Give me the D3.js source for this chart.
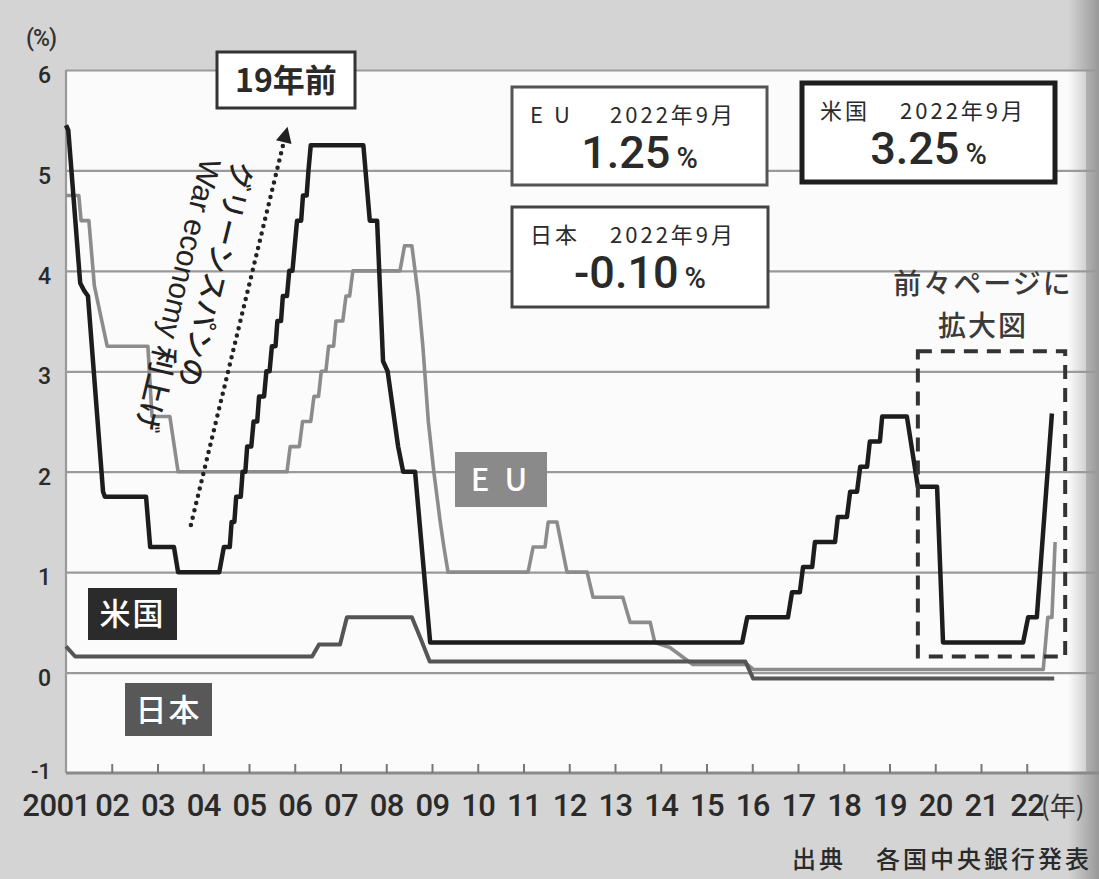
<!DOCTYPE html>
<html><head><meta charset="utf-8">
<script src="https://cdn.jsdelivr.net/npm/d3@7"></script>
<style>
body{margin:0;background:#d4d4d4;}
svg{display:block}
.num{font-family:Roboto,"Liberation Sans",sans-serif;font-weight:500}
.jp{font-family:"Noto Sans CJK JP",sans-serif}
</style></head><body><svg id="c" width="1099" height="879"></svg>
<script>
// ---------- data (year, policy rate %) ----------
const xTickYears  = [2001,2002,2003,2004,2005,2006,2007,2008,2009,2010,2011,2012,2013,2014,2015,2016,2017,2018,2019,2020,2021,2022];
const xTickLabels = ["2001","02","03","04","05","06","07","08","09","10","11","12","13","14","15","16","17","18","19","20","21","22"];
const yTickValues = [-1,0,1,2,3,4,5,6];
const gridValues  = [0,1,2,3,4,5,6];

const usRate = [
 [2001.0,5.45],[2001.05,5.4],[2001.31,3.88],[2001.4,3.8],[2001.48,3.75],[2001.81,1.8],[2001.85,1.75],
 [2002.75,1.75],[2002.84,1.25],[2003.36,1.25],[2003.45,1.0],[2004.35,1.0],
 [2004.45,1.25],[2004.58,1.25],[2004.62,1.5],[2004.68,1.5],[2004.72,1.75],[2004.82,1.75],[2004.86,2.0],
 [2004.92,2.0],[2004.96,2.25],[2005.05,2.25],[2005.1,2.5],[2005.18,2.5],[2005.22,2.75],[2005.33,2.75],
 [2005.38,3.0],[2005.45,3.0],[2005.5,3.25],[2005.58,3.25],[2005.62,3.5],[2005.7,3.5],[2005.74,3.75],
 [2005.83,3.75],[2005.88,4.0],[2005.95,4.0],[2006.0,4.25],[2006.05,4.5],[2006.14,4.5],[2006.18,4.75],
 [2006.26,4.75],[2006.3,5.0],[2006.35,5.25],[2007.5,5.25],[2007.64,4.5],[2007.8,4.5],[2007.93,3.1],
 [2008.03,3.0],[2008.26,2.25],[2008.37,2.0],[2008.63,2.0],[2008.96,0.3],[2015.78,0.3],[2015.89,0.55],
 [2016.78,0.55],[2016.87,0.8],[2017.04,0.8],[2017.11,1.05],[2017.31,1.05],[2017.37,1.3],[2017.81,1.3],
 [2017.87,1.55],[2018.07,1.55],[2018.14,1.8],[2018.29,1.8],[2018.36,2.05],[2018.51,2.05],[2018.57,2.3],
 [2018.79,2.3],[2018.84,2.55],[2019.38,2.55],[2019.62,1.85],[2020.04,1.85],[2020.17,0.3],[2021.92,0.3],
 [2022.03,0.55],[2022.22,0.55],[2022.55,2.58]
];
const euRate = [
 [2001.0,4.75],[2001.28,4.75],[2001.33,4.5],[2001.5,4.5],[2001.62,3.85],[2001.9,3.25],[2002.79,3.25],
 [2002.88,2.55],[2003.27,2.55],[2003.45,2.0],[2005.83,2.0],[2005.9,2.25],[2006.1,2.25],[2006.17,2.5],
 [2006.35,2.5],[2006.42,2.75],[2006.52,2.75],[2006.58,3.0],[2006.68,3.0],[2006.74,3.25],[2006.85,3.25],
 [2006.9,3.5],[2007.05,3.5],[2007.12,3.75],[2007.2,3.75],[2007.27,4.0],[2008.3,4.0],[2008.4,4.25],
 [2008.56,4.25],[2008.7,3.75],[2008.8,3.25],[2008.92,2.5],[2009.04,2.0],[2009.18,1.5],[2009.26,1.25],
 [2009.35,1.0],[2011.1,1.0],[2011.21,1.25],[2011.47,1.25],[2011.54,1.5],[2011.73,1.5],[2011.95,1.0],
 [2012.39,1.0],[2012.52,0.75],[2013.17,0.75],[2013.33,0.5],[2013.77,0.5],[2013.87,0.3],[2014.2,0.25],
 [2014.7,0.08],[2015.9,0.08],[2016.03,0.03],[2022.36,0.03],[2022.46,0.55],[2022.55,0.55],[2022.62,1.3]
];
const jpRate = [
 [2001.0,0.26],[2001.2,0.16],[2006.38,0.16],[2006.53,0.28],[2006.99,0.28],[2007.14,0.55],[2008.56,0.55],
 [2008.76,0.33],[2008.95,0.11],[2015.85,0.11],[2016.02,-0.06],[2022.6,-0.06]
];

// ---------- chart ----------
const W=1099,H=879;
const svg=d3.select('#c');
const x=d3.scaleLinear().domain([2001,2023]).range([66,66+22*45.75]);
const y=d3.scaleLinear().domain([-1,6]).range([773,70]);

svg.append('rect').attr('width',W).attr('height',H).attr('fill','#d4d4d4');
svg.append('rect').attr('x',x(2001)).attr('y',y(6)).attr('width',1086-x(2001)).attr('height',y(-1)-y(6)).attr('fill','#fbfbfb');
// right page shadow
const defs=svg.append('defs');
const gr=defs.append('linearGradient').attr('id','sh').attr('x1','0').attr('x2','1');
gr.append('stop').attr('offset','0').attr('stop-color','#000').attr('stop-opacity',0);
gr.append('stop').attr('offset','1').attr('stop-color','#000').attr('stop-opacity',0.28);
svg.append('rect').attr('x',1068).attr('y',0).attr('width',31).attr('height',H).attr('fill','url(#sh)');

// grid
const grid=svg.append('g').attr('transform',`translate(${x(2001)},0)`)
  .call(d3.axisLeft(y).tickValues(gridValues).tickSize(-(W-x(2001))).tickFormat(''));
grid.select('.domain').remove();
grid.selectAll('line').attr('stroke','#9a9a9a').attr('stroke-width',2.2);

// y axis labels
const ya=svg.append('g').attr('transform',`translate(${x(2001)},0)`)
  .call(d3.axisLeft(y).tickValues(yTickValues).tickSize(0).tickPadding(15).tickFormat(d=>String(d)));
ya.select('.domain').remove();
ya.selectAll('text').attr('class','num').attr('font-size',23).attr('fill','#2a2a2a').attr('dy','0.55em');
ya.selectAll('.tick').filter(d=>d===-1).select('text').attr('dy','0.25em').attr('font-size',22);
svg.append('line').attr('x1',x(2001)).attr('x2',x(2001)).attr('y1',y(6)).attr('y2',y(-1)).attr('stroke','#9a9a9a').attr('stroke-width',2.2);
svg.append('text').attr('class','num').attr('x',26).attr('y',46).attr('font-size',23).attr('letter-spacing',-1).attr('fill','#333').text('(%)');

// x axis
svg.append('line').attr('x1',x(2001)).attr('x2',W).attr('y1',y(-1)).attr('y2',y(-1)).attr('stroke','#8a8a8a').attr('stroke-width',3);
const xa=svg.append('g').attr('transform',`translate(0,${y(-1)})`)
  .call(d3.axisBottom(x).tickValues(xTickYears).tickFormat((d,i)=>xTickLabels[i]).tickSizeInner(-9).tickSizeOuter(0).tickPadding(21));
xa.select('.domain').remove();
xa.selectAll('.tick line').attr('stroke','#777').attr('stroke-width',2).filter(d=>d===2001).remove();
xa.selectAll('.tick text').attr('class','num').attr('font-size',31).attr('fill','#2a2a2a').attr('letter-spacing',-0.5);
xa.selectAll('.tick').filter(d=>d===2001).select('text').attr('dx',-10);
svg.append('text').attr('class','jp').attr('x',1041).attr('y',816).attr('font-size',26).attr('fill','#333').text('(年)');

// series
const line=d3.line().x(d=>x(d[0])).y(d=>y(d[1]));
svg.append('path').datum(euRate).attr('d',line).attr('fill','none').attr('stroke','#8c8c8c').attr('stroke-width',3.6).attr('stroke-linejoin','round');
svg.append('path').datum(jpRate).attr('d',line).attr('fill','none').attr('stroke','#555').attr('stroke-width',4).attr('stroke-linejoin','round');
svg.append('path').datum(usRate).attr('d',line).attr('fill','none').attr('stroke','#1d1d1d').attr('stroke-width',4.5).attr('stroke-linejoin','round');

// series labels
function tag(x0,y0,w,h,fill,txt,fs,ls){
  svg.append('rect').attr('x',x0).attr('y',y0).attr('width',w).attr('height',h).attr('fill',fill);
  svg.append('text').attr('class','jp').attr('x',x0+w/2).attr('y',y0+h/2).attr('dy','0.36em')
   .attr('text-anchor','middle').attr('font-size',fs).attr('font-weight',500).attr('letter-spacing',ls||0).attr('fill','#fff').text(txt);
}
tag(88,588,89,52,'#2b2b2b','米国',31,2);
tag(125,683,87,53,'#585858','日本',31,2);
tag(455,452,92,55,'#8a8a8a','E U',31,4);

// dashed box
svg.append('rect').attr('x',x(2019.62)).attr('y',y(3.2)).attr('width',x(2022.84)-x(2019.62)).attr('height',y(0.16)-y(3.2))
  .attr('fill','none').attr('stroke','#333').attr('stroke-width',4).attr('stroke-dasharray','14,9');
svg.append('text').attr('class','jp').attr('x',983).attr('y',294).attr('text-anchor','middle').attr('font-size',28).attr('font-weight',500).attr('letter-spacing',2).attr('fill','#3a3a3a').text('前々ページに');
svg.append('text').attr('class','jp').attr('x',983).attr('y',336).attr('text-anchor','middle').attr('font-size',28).attr('font-weight',500).attr('letter-spacing',2).attr('fill','#3a3a3a').text('拡大図');

// value boxes
function vbox(x0,y0,w,h,sw,stroke,l1a,l1b,val){
  svg.append('rect').attr('x',x0).attr('y',y0).attr('width',w).attr('height',h).attr('fill','#fff').attr('stroke',stroke).attr('stroke-width',sw);
  const t=svg.append('text').attr('class','jp').attr('x',x0+18).attr('y',y0+36).attr('font-size',22).attr('fill','#2a2a2a').attr('letter-spacing',3);
  t.append('tspan').text(l1a);
  t.append('tspan').attr('x',x0+98).text(l1b);
  const v=svg.append('text').attr('x',x0+w/2).attr('y',y0+81).attr('text-anchor','middle').attr('fill','#2a2a2a');
  v.append('tspan').attr('class','num').attr('font-size',45).text(val);
  v.append('tspan').attr('class','num').attr('font-size',29).attr('dx',6).text('%');
}
vbox(512,87,255,98,3,'#555','E U','2022年9月','1.25');
vbox(512,207,256,100,3,'#444','日本','2022年9月','-0.10');
vbox(802,83,253,99,5,'#1e1e1e','米国','2022年9月','3.25');

// 19年前
svg.append('rect').attr('x',217).attr('y',52).attr('width',138).attr('height',56).attr('fill','#fff').attr('stroke','#333').attr('stroke-width',3);
svg.append('text').attr('class','jp').attr('x',286).attr('y',92).attr('text-anchor','middle').attr('font-size',32).attr('font-weight',700).attr('fill','#2a2a2a').text('19年前');

// dotted arrow
const a0=[x(2003.73),y(1.47)], a1=[x(2005.78),y(5.32)];
svg.append('line').attr('x1',a0[0]).attr('y1',a0[1]).attr('x2',a1[0]).attr('y2',a1[1])
  .attr('stroke','#222').attr('stroke-width',4.5).attr('stroke-linecap','round').attr('stroke-dasharray','0,7.5');
{
  const dx=a1[0]-a0[0], dy=a1[1]-a0[1], L=Math.hypot(dx,dy), ux=dx/L, uy=dy/L;
  const tip=[a1[0]+ux*12,a1[1]+uy*12], bx=a1[0]-ux*4, by=a1[1]-uy*4;
  svg.append('path').attr('d',`M${tip[0]},${tip[1]}L${bx-uy*8},${by+ux*8}L${bx+uy*8},${by-ux*8}Z`).attr('fill','#222');
}
// rotated annotation
svg.append('text').attr('class','jp').attr('transform','translate(234,160) rotate(104)').attr('font-size',28).attr('letter-spacing',1).attr('font-weight',500).attr('fill','#222').text('グリーンスパンの');
const t2=svg.append('text').attr('transform','translate(201,157) rotate(103.5)').attr('fill','#222');
t2.append('tspan').attr('font-family','"Liberation Sans",sans-serif').attr('font-size',30).text('War economy ');
t2.append('tspan').attr('class','jp').attr('font-size',29).attr('font-weight',500).text('利上げ');

// source
const src=svg.append('text').attr('class','jp').attr('y',868).attr('font-size',24).attr('font-weight',500).attr('fill','#2a2a2a').attr('letter-spacing',3);
src.append('tspan').attr('x',792).text('出典');
src.append('tspan').attr('x',876).text('各国中央銀行発表');
</script></body></html>
